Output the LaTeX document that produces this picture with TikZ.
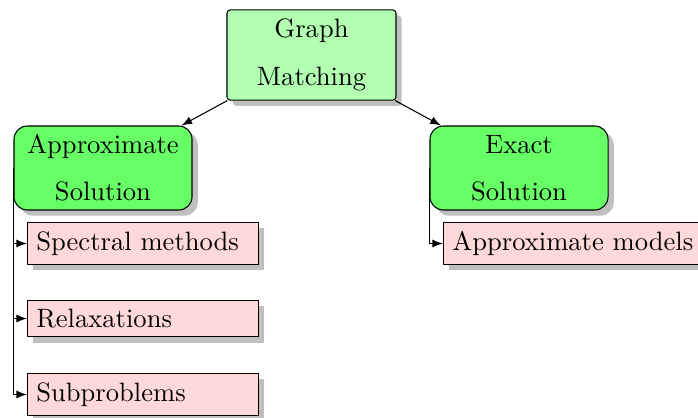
\documentclass[tikz,border=0pt]{standalone}
\usetikzlibrary{shadows}
\begin{document}
\begin{tikzpicture}[x=0.3763pt,y=-0.3763pt,
  >=latex, line width=0.4pt,
  rootbox/.style={draw, fill=green!30, rounded corners=1.2pt, drop shadow,
    align=center, minimum width=63.6pt, minimum height=33.9pt, inner sep=2pt},
  solbox/.style={draw, fill=green!60, rounded corners=5pt, drop shadow,
    align=center, minimum width=67pt, minimum height=31.6pt, inner sep=2pt},
  leafbox/.style={draw, fill=red!15, drop shadow, anchor=west},
  leafcol/.style={leafbox, text width=80.2pt, align=left}]
  \useasboundingbox (0,0) rectangle (698,417);

  % top of the tree
  \node[rootbox] (gm) at (311.5,55) {Graph\\[6pt]Matching};

  % the two families of methods
  \node[solbox] (aps) at (103,168) {Approximate\\[5.7pt]Solution};
  \node[solbox] (exs) at (519,168) {Exact\\[5.7pt]Solution};

  % leaves under the approximate branch
  \node[leafcol] (spec) at (27,243.5) {Spectral methods};
  \node[leafcol] (relax) at (27,318.5) {Relaxations};
  \node[leafcol] (subp) at (27,394.5) {Subproblems};

  % leaf under the exact branch
  \node[leafbox] (apmod) at (443,243.5) {Approximate models};

  % connectors
  \draw[->] (gm) -- (aps);
  \draw[->] (gm) -- (exs);
  \draw[->] (aps.west) |- (spec.west);
  \draw[->] (aps.west) |- (relax.west);
  \draw[->] (aps.west) |- (subp.west);
  \draw[->] (exs.west) |- (apmod.west);
\end{tikzpicture}
\end{document}
